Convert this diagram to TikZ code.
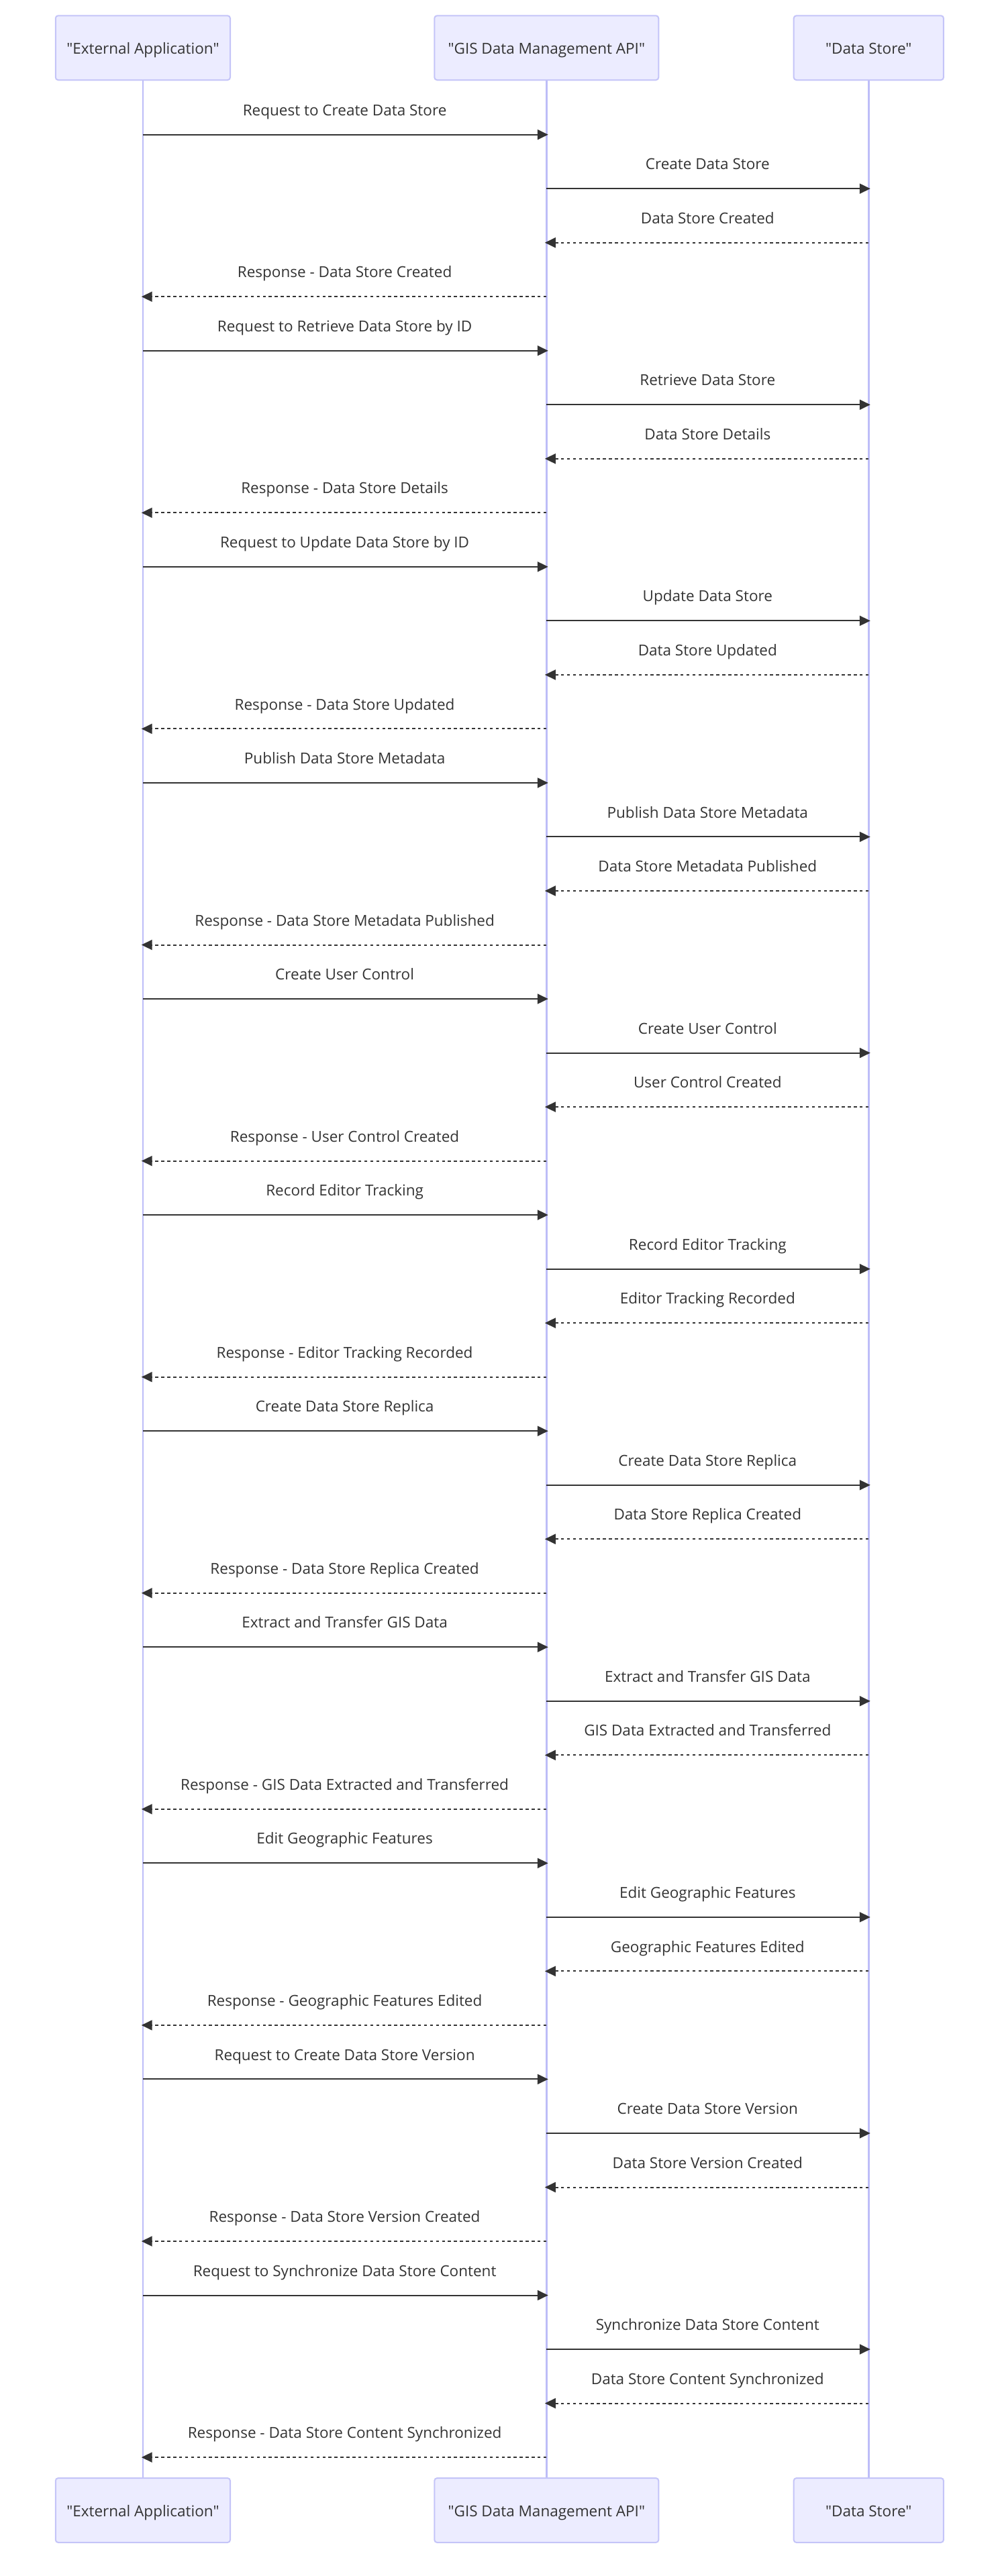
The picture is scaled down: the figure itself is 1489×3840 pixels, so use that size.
\documentclass[tikz,border=0pt]{standalone}
\usepackage{fontspec}
\setmainfont{Open Sans}[Ligatures=TeXOff]
\usetikzlibrary{arrows.meta}
\definecolor{actfill}{HTML}{ECECFF}
\definecolor{actborder}{HTML}{C4C4F8}
\definecolor{lifec}{HTML}{BDBDF8}
\definecolor{txt}{HTML}{333333}
\definecolor{arrowc}{HTML}{333333}
\begin{document}
\begin{tikzpicture}[x=1pt,y=-1pt,
  actor/.style={draw=actborder, fill=actfill, line width=2pt, rounded corners=4pt,
    text=txt, font=\fontsize{22.5}{27}\selectfont, inner sep=0pt,
    text height=20.3pt, text depth=0.9pt, minimum height=96pt},
  msg/.style={text=txt, font=\fontsize{22.5}{27}\selectfont, anchor=base, inner sep=0pt},
  sync/.style={draw=arrowc, line width=2pt, -{Triangle[length=16pt,width=15pt]}},
  reply/.style={sync, dash pattern=on 4.5pt off 4.4pt},
  life/.style={draw=lifec, line width=2.5pt}]
\useasboundingbox (0,0) rectangle (1489,3840);
% actors (top)
\node[actor, minimum width=260.3pt] (A) at (212.9,71.3) {"External Application"};
\node[actor, minimum width=334pt] (B) at (814.3,71.3) {"GIS Data Management API"};
\node[actor, minimum width=223.3pt] (C) at (1294.3,71.3) {"Data Store"};
% actors (bottom)
\node[actor, minimum width=260.3pt] (A2) at (212.9,3742) {"External Application"};
\node[actor, minimum width=334pt] (B2) at (814.3,3742) {"GIS Data Management API"};
\node[actor, minimum width=223.3pt] (C2) at (1294.3,3742) {"Data Store"};
% lifelines
\draw[life] (A.south) -- (A2.north);
\draw[life] (B.south) -- (B2.north);
\draw[life] (C.south) -- (C2.north);
% messages
\foreach [count=\g from 0] \la/\lb/\lc/\ld in {
 {Request to Create Data Store}/{Create Data Store}/{Data Store Created}/{Response - Data Store Created},
 {Request to Retrieve Data Store by ID}/{Retrieve Data Store}/{Data Store Details}/{Response - Data Store Details},
 {Request to Update Data Store by ID}/{Update Data Store}/{Data Store Updated}/{Response - Data Store Updated},
 {Publish Data Store Metadata}/{Publish Data Store Metadata}/{Data Store Metadata Published}/{Response - Data Store Metadata Published},
 {Create User Control}/{Create User Control}/{User Control Created}/{Response - User Control Created},
 {Record Editor Tracking}/{Record Editor Tracking}/{Editor Tracking Recorded}/{Response - Editor Tracking Recorded},
 {Create Data Store Replica}/{Create Data Store Replica}/{Data Store Replica Created}/{Response - Data Store Replica Created},
 {Extract and Transfer GIS Data}/{Extract and Transfer GIS Data}/{GIS Data Extracted and Transferred}/{Response - GIS Data Extracted and Transferred},
 {Edit Geographic Features}/{Edit Geographic Features}/{Geographic Features Edited}/{Response - Geographic Features Edited},
 {Request to Create Data Store Version}/{Create Data Store Version}/{Data Store Version Created}/{Response - Data Store Version Created},
 {Request to Synchronize Data Store Content}/{Synchronize Data Store Content}/{Data Store Content Synchronized}/{Response - Data Store Content Synchronized}
}{
  \pgfmathsetmacro{\yA}{200.7+80.52*4*\g}
  \pgfmathsetmacro{\yB}{\yA+80.52}
  \pgfmathsetmacro{\yC}{\yA+2*80.52}
  \pgfmathsetmacro{\yD}{\yA+3*80.52}
  % A -> B
  \coordinate (sa\g) at (212.9,\yA);
  \coordinate (ea\g) at (816.8,\yA);
  \draw[sync] (sa\g) -- (ea\g);
  \node[msg] (ta\g) at (513.6,\yA-28.4) {\la};
  % B -> C
  \coordinate (sb\g) at (814.3,\yB);
  \coordinate (eb\g) at (1296.8,\yB);
  \draw[sync] (sb\g) -- (eb\g);
  \node[msg] (tb\g) at (1054.3,\yB-28.4) {\lb};
  % C --> B
  \coordinate (sc\g) at (1294.3,\yC);
  \coordinate (ec\g) at (811.8,\yC);
  \draw[reply] (sc\g) -- (ec\g);
  \node[msg] (tc\g) at (1054.3,\yC-28.4) {\lc};
  % B --> A
  \coordinate (sd\g) at (814.3,\yD);
  \coordinate (ed\g) at (210.7,\yD);
  \draw[reply] (sd\g) -- (ed\g);
  \node[msg] (td\g) at (513.6,\yD-28.4) {\ld};
}
\end{tikzpicture}
\end{document}
